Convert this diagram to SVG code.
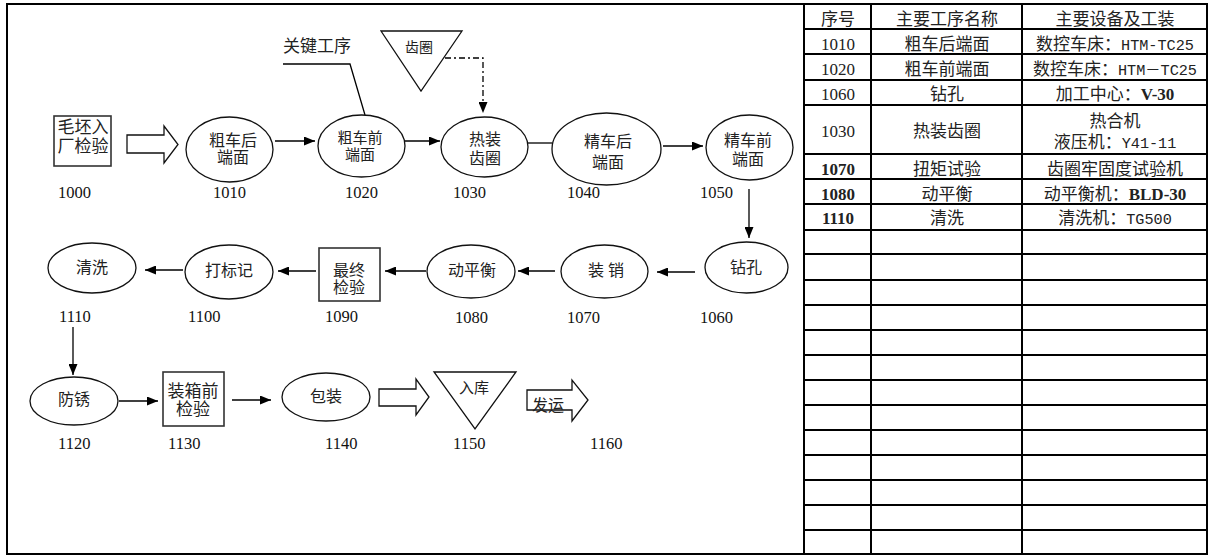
<svg xmlns="http://www.w3.org/2000/svg" width="1212" height="556" viewBox="0 0 1212 556">
<defs>
<style>
.shape{fill:#fff;stroke:#111;stroke-width:1.3}
.box{fill:#fff;stroke:#333;stroke-width:1.6}
.ln{fill:none;stroke:#000;stroke-width:1.3}
.t{font-family:"Liberation Serif","Noto Sans CJK SC",serif;font-size:16px;fill:#222;text-anchor:middle}
.num{font-family:"Liberation Serif","Noto Sans CJK SC",serif;font-size:16.5px;fill:#111}
.grid{fill:none;stroke:#000;stroke-width:2}
.tt{font-family:"Liberation Serif","Noto Sans CJK SC",serif;font-size:17px;fill:#222;text-anchor:middle}
.mono{font-family:"Liberation Mono","Noto Sans CJK SC",monospace;font-size:15.2px}
.b{font-weight:bold}
</style>
<marker id="ah" markerUnits="userSpaceOnUse" markerWidth="11" markerHeight="9" refX="11" refY="4.5" orient="auto">
<path d="M0,0 L11,4.5 L0,9 z" fill="#000"/>
</marker>
</defs>
<rect x="0" y="0" width="1212" height="556" fill="#fff"/>

<!-- frame and table -->
<g id="frame" class="grid">
<rect x="7" y="4" width="1200" height="550"/>
<line x1="804" y1="4" x2="804" y2="554"/>
<line x1="871" y1="4" x2="871" y2="554"/>
<line x1="1022" y1="4" x2="1022" y2="554"/>
<path d="M804,29H1207M804,54H1207M804,80H1207M804,105H1207M804,154H1207M804,179H1207M804,204H1207M804,230H1207M804,254H1207M804,280H1207M804,305H1207M804,330H1207M804,355H1207M804,380H1207M804,405H1207M804,430H1207M804,455H1207M804,480H1207M804,505H1207M804,530H1207"/>
</g>
<g id="table-text" class="tt">
<text x="838" y="25">序号</text>
<text x="947" y="25">主要工序名称</text>
<text x="1115" y="25">主要设备及工装</text>
<text x="838" y="50">1010</text>
<text x="947" y="50">粗车后端面</text>
<text x="1115" y="50">数控车床：<tspan class="mono">HTM-TC25</tspan></text>
<text x="838" y="75">1020</text>
<text x="947" y="75">粗车前端面</text>
<text x="1115" y="75">数控车床：<tspan class="mono">HTM－TC25</tspan></text>
<text x="838" y="100">1060</text>
<text x="947" y="100">钻孔</text>
<text x="1115" y="100">加工中心：<tspan class="b">V-30</tspan></text>
<text x="838" y="137">1030</text>
<text x="947" y="137">热装齿圈</text>
<text x="1115" y="127">热合机</text>
<text x="1115" y="148">液压机：<tspan class="mono">Y41-11</tspan></text>
<text x="838" y="175" class="b">1070</text>
<text x="947" y="175">扭矩试验</text>
<text x="1115" y="175">齿圈牢固度试验机</text>
<text x="838" y="200" class="b">1080</text>
<text x="947" y="200">动平衡</text>
<text x="1115" y="200">动平衡机：<tspan class="b">BLD-30</tspan></text>
<text x="838" y="224" class="b">1110</text>
<text x="947" y="224">清洗</text>
<text x="1115" y="224">清洗机：<tspan class="mono">TG500</tspan></text>
</g>

<!-- connectors -->
<g id="connectors">
<polygon class="shape" points="127,135 164,135 164,126 178,144.5 164,163 164,153 127,153"/>
<line class="ln" x1="275" y1="141" x2="315" y2="141" marker-end="url(#ah)"/>
<polyline class="ln" points="283,64 350,64 365,115"/>
<line class="ln" x1="405" y1="141" x2="440" y2="141" marker-end="url(#ah)"/>
<polyline class="ln" points="445,58 483,58 483,113" stroke-dasharray="6,3,2,3" marker-end="url(#ah)"/>
<line class="ln" x1="528" y1="143" x2="552" y2="143"/>
<line class="ln" x1="663" y1="146" x2="703" y2="146" marker-end="url(#ah)"/>
<line class="ln" x1="749" y1="189" x2="749" y2="238" marker-end="url(#ah)"/>
<line class="ln" x1="695" y1="272" x2="657" y2="272" marker-end="url(#ah)"/>
<line class="ln" x1="555" y1="271" x2="518" y2="271" marker-end="url(#ah)"/>
<line class="ln" x1="426" y1="271" x2="385" y2="271" marker-end="url(#ah)"/>
<line class="ln" x1="316" y1="271" x2="278" y2="271" marker-end="url(#ah)"/>
<line class="ln" x1="183" y1="270" x2="145" y2="270" marker-end="url(#ah)"/>
<line class="ln" x1="73" y1="327" x2="73" y2="375" marker-end="url(#ah)"/>
<line class="ln" x1="119" y1="401" x2="158" y2="401" marker-end="url(#ah)"/>
<line class="ln" x1="232" y1="400" x2="271" y2="400" marker-end="url(#ah)"/>
<polygon class="shape" points="379,389 416,389 416,379 429,397 416,415 416,406 379,406"/>
</g>

<!-- annotations -->
<g id="key-label">
<text class="t" x="317" y="52" style="font-size:17px">关键工序</text>
</g>
<g id="n-gear">
<polygon class="shape" points="381,31 462,31 421,91"/>
<text class="t" x="419" y="52" style="font-size:14px">齿圈</text>
</g>

<!-- nodes -->
<g id="n1000">
<rect class="box" x="54" y="116" width="57" height="50"/>
<text class="t" x="83" y="133" style="font-size:17px">毛坯入</text>
<text class="t" x="83" y="152" style="font-size:17px">厂检验</text>
<text class="num" x="58" y="198">1000</text>
</g>
<g id="n1010">
<ellipse class="shape" cx="229.5" cy="149.5" rx="43.5" ry="32.5"/>
<text class="t" x="233" y="146">粗车后</text>
<text class="t" x="233" y="163">端面</text>
<text class="num" x="213" y="198">1010</text>
</g>
<g id="n1020">
<ellipse class="shape" cx="361.5" cy="146" rx="43.5" ry="31"/>
<text class="t" x="360" y="143" style="font-size:15px">粗车前</text>
<text class="t" x="360" y="160" style="font-size:15px">端面</text>
<text class="num" x="345" y="198">1020</text>
</g>
<g id="n1030">
<ellipse class="shape" cx="484.5" cy="147" rx="43.5" ry="30"/>
<text class="t" x="485" y="145">热装</text>
<text class="t" x="485" y="164">齿圈</text>
<text class="num" x="453" y="198">1030</text>
</g>
<g id="n1040">
<ellipse class="shape" cx="606.5" cy="149" rx="54.5" ry="36"/>
<text class="t" x="608" y="147">精车后</text>
<text class="t" x="608" y="168">端面</text>
<text class="num" x="567" y="198">1040</text>
</g>
<g id="n1050">
<ellipse class="shape" cx="749.5" cy="147.5" rx="43.5" ry="32.5"/>
<text class="t" x="748" y="146">精车前</text>
<text class="t" x="748" y="165">端面</text>
<text class="num" x="700" y="198">1050</text>
</g>
<g id="n1060">
<ellipse class="shape" cx="746.5" cy="267.5" rx="41.5" ry="25.5"/>
<text class="t" x="746" y="273">钻孔</text>
<text class="num" x="700" y="323">1060</text>
</g>
<g id="n1070">
<ellipse class="shape" cx="604.5" cy="271.5" rx="43.5" ry="26.5"/>
<text class="t" x="606" y="276" xml:space="preserve">装 销</text>
<text class="num" x="567" y="323">1070</text>
</g>
<g id="n1080">
<ellipse class="shape" cx="471" cy="271.5" rx="44" ry="26.5"/>
<text class="t" x="472" y="276">动平衡</text>
<text class="num" x="455" y="323">1080</text>
</g>
<g id="n1090">
<rect class="box" x="319" y="248" width="61" height="53"/>
<text class="t" x="349" y="276">最终</text>
<text class="t" x="349" y="293">检验</text>
<text class="num" x="325" y="322">1090</text>
</g>
<g id="n1100">
<ellipse class="shape" cx="229" cy="272" rx="44" ry="27"/>
<text class="t" x="229" y="276">打标记</text>
<text class="num" x="188" y="322">1100</text>
</g>
<g id="n1110">
<ellipse class="shape" cx="92" cy="268" rx="44" ry="25"/>
<text class="t" x="92" y="273">清洗</text>
<text class="num" x="59" y="322">1110</text>
</g>
<g id="n1120">
<ellipse class="shape" cx="74" cy="401" rx="44" ry="24"/>
<text class="t" x="74" y="405">防锈</text>
<text class="num" x="58" y="449">1120</text>
</g>
<g id="n1130">
<rect class="box" x="163" y="372" width="61" height="54"/>
<text class="t" x="193" y="397" style="font-size:17px">装箱前</text>
<text class="t" x="193" y="415" style="font-size:17px">检验</text>
<text class="num" x="168" y="449">1130</text>
</g>
<g id="n1140">
<ellipse class="shape" cx="326" cy="397" rx="44" ry="24"/>
<text class="t" x="326" y="402">包装</text>
<text class="num" x="325" y="449">1140</text>
</g>
<g id="n1150">
<polygon class="shape" points="434,372 516,372 475,429"/>
<text class="t" x="474" y="393" style="font-size:15px">入库</text>
<text class="num" x="453" y="449">1150</text>
</g>
<g id="n1160">
<polygon class="shape" points="527,390 572,390 572,380 588,400 572,421 572,410 527,410"/>
<text class="t" x="548" y="411">发运</text>
<text class="num" x="590" y="449">1160</text>
</g>
</svg>
